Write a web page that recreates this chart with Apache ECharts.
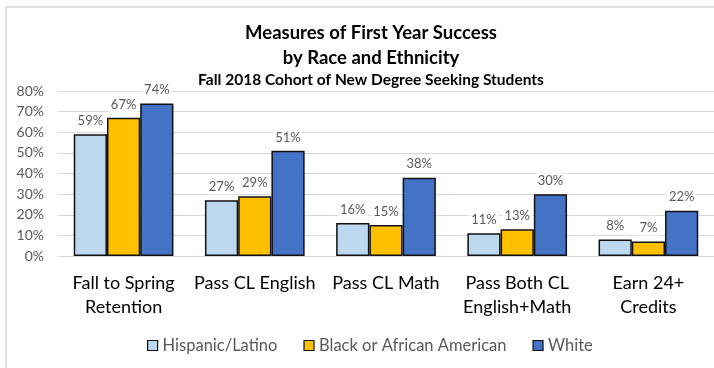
<!DOCTYPE html>
<html>
<head>
<meta charset="utf-8">
<script src="https://cdn.jsdelivr.net/npm/echarts@6/dist/echarts.min.js"></script>
<style>
  html, body { margin: 0; padding: 0; background: #fff; }
  #chart { width: 714px; height: 368px; }
</style>
</head>
<body>
<div id="chart"></div>
<script>
// Measures and cohort percentages
const categories = ['Fall to Spring\nRetention', 'Pass CL English', 'Pass CL Math', 'Pass Both CL\nEnglish+Math', 'Earn 24+\nCredits'];
const hispanic = [59, 27, 16, 11, 8];
const black = [67, 29, 15, 13, 7];
const white = [74, 51, 38, 30, 22];
const seriesNames = ['Hispanic/Latino', 'Black or African American', 'White'];
const seriesColors = ['#BDD7EE', '#FFC000', '#4472C4'];
const yTicks = [0, 10, 20, 30, 40, 50, 60, 70, 80];
const titleLines = ['Measures of First Year Success', 'by Race and Ethnicity'];
const subtitle = 'Fall 2018 Cohort of New Degree Seeking Students';

const font = 'Lato, "Open Sans", sans-serif';
const chart = echarts.init(document.getElementById('chart'));

const makeSeries = (name, data, color) => ({
  name: name,
  type: 'bar',
  data: data,
  barGap: '0%',
  barCategoryGap: '24%',
  itemStyle: { color: color, borderColor: '#111', borderWidth: 1.5 },
  label: {
    show: true,
    position: 'top',
    distance: 6,
    formatter: p => p.value + '%',
    color: '#595959',
    fontFamily: font,
    fontSize: 13,
    backgroundColor: '#fff',
    padding: [1, 2]
  }
});

const titleStyle = (text, y, size) => ({
  type: 'text',
  x: 371,
  y: y,
  style: {
    text: text,
    fontFamily: font,
    fontSize: size,
    fontWeight: 'bold',
    fill: '#000',
    align: 'center',
    verticalAlign: 'middle'
  }
});

chart.setOption({
  animation: false,
  graphic: [
    {
      type: 'rect',
      shape: { x: 6, y: 7, width: 720, height: 380 },
      style: { fill: 'none', stroke: '#d9d9d9', lineWidth: 1.5 }
    },
    titleStyle(titleLines[0], 33, 18.5),
    titleStyle(titleLines[1], 58, 18.5),
    titleStyle(subtitle, 80, 15.5)
  ],
  legend: {
    top: 337,
    left: 147,
    itemWidth: 10,
    itemHeight: 10,
    itemGap: 26,
    padding: 0,
    icon: 'rect',
    itemStyle: { borderColor: '#111', borderWidth: 1.2 },
    textStyle: { fontFamily: font, fontSize: 16.5, color: '#595959' },
    data: seriesNames
  },
  grid: { left: 58, right: 0, top: 91, bottom: 112 },
  xAxis: {
    type: 'category',
    data: categories,
    axisLine: { lineStyle: { color: '#d9d9d9', width: 1 } },
    axisTick: { show: false },
    axisLabel: { fontFamily: font, fontSize: 18, color: '#000', lineHeight: 24, margin: 15, interval: 0 }
  },
  yAxis: {
    type: 'value',
    min: yTicks[0],
    max: yTicks[yTicks.length - 1],
    interval: 10,
    axisLine: { show: false },
    axisTick: { show: false },
    splitLine: { lineStyle: { color: '#d9d9d9', width: 1 } },
    axisLabel: { fontFamily: font, fontSize: 14, color: '#595959', formatter: v => v + '%', margin: 14 }
  },
  series: [
    makeSeries(seriesNames[0], hispanic, seriesColors[0]),
    makeSeries(seriesNames[1], black, seriesColors[1]),
    makeSeries(seriesNames[2], white, seriesColors[2])
  ]
});
</script>
</body>
</html>
